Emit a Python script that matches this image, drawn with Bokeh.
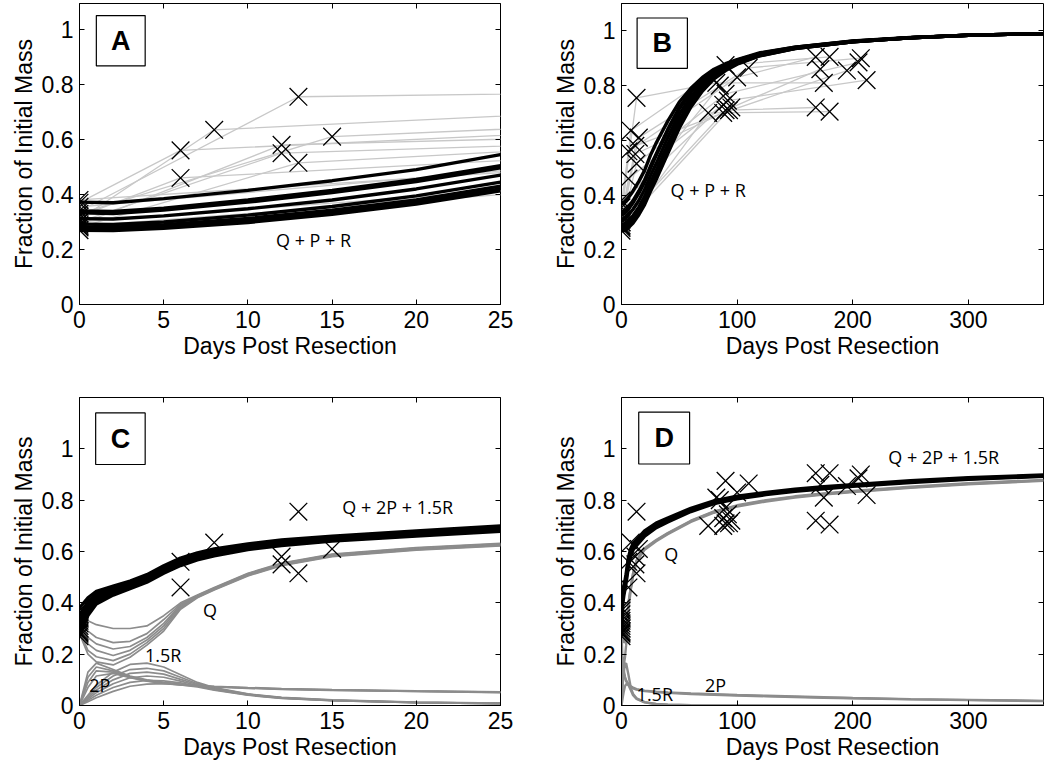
from bokeh.plotting import figure
from bokeh.models import FixedTicker, LinearAxis, Range1d, BoxAnnotation, Label
from bokeh.layouts import gridplot
from bokeh.embed import file_html
from bokeh.resources import INLINE

# ---------------- data ----------------
YTICKS = [0, 0.2, 0.4, 0.6, 0.8, 1]
YTICK_LABELS = ["0", "0.2", "0.4", "0.6", "0.8", "1"]
XTICKS_SHORT = [0, 5, 10, 15, 20, 25]
XTICKS_LONG = [0, 100, 200, 300]

# measured liver mass per patient (day, fraction of initial mass)
PATIENT_DAYS = [
    [0, 13, 82, 175],
    [0, 8, 90, 180],
    [0, 15, 110, 207],
    [0, 6, 100, 168],
    [0, 12, 88, 195],
    [0, 12, 93, 168],
    [0, 13, 90, 205],
    [0, 6, 92, 212],
    [0, 75, 180],
    [0, 90, 172],
    [0, 95],
    [0, 85],
    [0, 88],
]
PATIENT_MASS = [
    [0.34, 0.755, 0.81, 0.81],
    [0.31, 0.635, 0.875, 0.905],
    [0.33, 0.61, 0.865, 0.90],
    [0.37, 0.56, 0.83, 0.905],
    [0.29, 0.58, 0.70, 0.855],
    [0.30, 0.55, 0.71, 0.72],
    [0.28, 0.515, 0.77, 0.885],
    [0.32, 0.46, 0.745, 0.82],
    [0.27, 0.70, 0.705],
    [0.30, 0.71, 0.86],
    [0.285, 0.72],
    [0.355, 0.80],
    [0.38, 0.73],
]

# model Q + P + R fits (panels A, B)
FIT1_DAYS = [0, 2, 5, 10, 15, 20, 25, 30, 40, 50, 60, 70, 80, 90, 100, 120, 150, 200, 250, 300, 365]
FIT1_TOTAL = [
    [0.372, 0.370, 0.385, 0.415, 0.450, 0.490, 0.545, 0.590, 0.670, 0.740, 0.790, 0.830, 0.860, 0.880, 0.895, 0.920, 0.940, 0.963, 0.976, 0.984, 0.990],
    [0.340, 0.338, 0.350, 0.380, 0.415, 0.455, 0.505, 0.550, 0.640, 0.720, 0.780, 0.825, 0.855, 0.877, 0.893, 0.918, 0.940, 0.962, 0.975, 0.984, 0.990],
    [0.333, 0.331, 0.343, 0.372, 0.407, 0.447, 0.497, 0.545, 0.635, 0.715, 0.775, 0.820, 0.852, 0.875, 0.892, 0.917, 0.939, 0.962, 0.975, 0.984, 0.990],
    [0.312, 0.311, 0.322, 0.348, 0.380, 0.420, 0.470, 0.515, 0.610, 0.695, 0.760, 0.810, 0.845, 0.870, 0.888, 0.915, 0.938, 0.961, 0.975, 0.984, 0.990],
    [0.292, 0.291, 0.300, 0.325, 0.356, 0.395, 0.445, 0.490, 0.585, 0.675, 0.745, 0.800, 0.838, 0.865, 0.885, 0.913, 0.937, 0.960, 0.975, 0.984, 0.990],
    [0.282, 0.281, 0.290, 0.313, 0.343, 0.380, 0.430, 0.475, 0.570, 0.660, 0.735, 0.790, 0.832, 0.861, 0.882, 0.911, 0.936, 0.960, 0.975, 0.984, 0.990],
    [0.276, 0.275, 0.283, 0.305, 0.335, 0.372, 0.420, 0.465, 0.560, 0.652, 0.728, 0.785, 0.828, 0.858, 0.880, 0.910, 0.935, 0.960, 0.975, 0.984, 0.990],
    [0.270, 0.269, 0.277, 0.298, 0.328, 0.365, 0.413, 0.457, 0.552, 0.645, 0.722, 0.780, 0.825, 0.855, 0.878, 0.909, 0.935, 0.960, 0.975, 0.984, 0.990],
]

# model Q + 2P + 1.5R, first 25 days (panel C)
FIT2_DAYS_C = [0, 0.5, 1, 2, 3, 4, 5, 6, 7, 8, 10, 12, 15, 20, 25]
FIT2_TOTAL_C = [
    [0.38, 0.42, 0.445, 0.465, 0.485, 0.51, 0.545, 0.575, 0.595, 0.61, 0.63, 0.645, 0.66, 0.68, 0.70],
    [0.35, 0.405, 0.435, 0.458, 0.478, 0.503, 0.538, 0.568, 0.588, 0.603, 0.624, 0.64, 0.655, 0.675, 0.695],
    [0.33, 0.39, 0.425, 0.45, 0.472, 0.497, 0.532, 0.562, 0.582, 0.598, 0.619, 0.635, 0.651, 0.671, 0.69],
    [0.31, 0.375, 0.415, 0.443, 0.466, 0.491, 0.526, 0.556, 0.577, 0.593, 0.615, 0.631, 0.647, 0.667, 0.686],
    [0.29, 0.36, 0.405, 0.436, 0.46, 0.486, 0.52, 0.55, 0.572, 0.588, 0.611, 0.627, 0.643, 0.663, 0.682],
    [0.27, 0.35, 0.395, 0.43, 0.455, 0.48, 0.515, 0.545, 0.567, 0.583, 0.607, 0.623, 0.64, 0.66, 0.678],
]
FIT2_Q_C = [
    [0.35, 0.33, 0.315, 0.30, 0.30, 0.31, 0.35, 0.40, 0.43, 0.46, 0.515, 0.555, 0.59, 0.615, 0.632],
    [0.33, 0.29, 0.265, 0.245, 0.25, 0.28, 0.335, 0.395, 0.428, 0.458, 0.513, 0.553, 0.588, 0.613, 0.63],
    [0.31, 0.265, 0.24, 0.22, 0.23, 0.265, 0.32, 0.39, 0.426, 0.456, 0.511, 0.551, 0.586, 0.611, 0.628],
    [0.30, 0.24, 0.215, 0.195, 0.215, 0.255, 0.31, 0.385, 0.424, 0.454, 0.509, 0.549, 0.584, 0.609, 0.626],
    [0.29, 0.215, 0.19, 0.175, 0.20, 0.245, 0.30, 0.38, 0.422, 0.452, 0.507, 0.547, 0.582, 0.607, 0.624],
    [0.28, 0.20, 0.17, 0.158, 0.188, 0.235, 0.29, 0.375, 0.42, 0.45, 0.505, 0.545, 0.58, 0.605, 0.622],
]
FIT2_P_C = [
    [0, 0.13, 0.165, 0.14, 0.115, 0.10, 0.09, 0.083, 0.078, 0.075, 0.07, 0.066, 0.062, 0.057, 0.053],
    [0, 0.11, 0.15, 0.135, 0.112, 0.098, 0.088, 0.082, 0.077, 0.074, 0.069, 0.065, 0.061, 0.056, 0.052],
    [0, 0.09, 0.135, 0.13, 0.11, 0.096, 0.087, 0.081, 0.076, 0.073, 0.068, 0.064, 0.06, 0.055, 0.051],
    [0, 0.07, 0.115, 0.125, 0.108, 0.095, 0.086, 0.08, 0.075, 0.072, 0.067, 0.063, 0.059, 0.055, 0.05],
]
FIT2_R_C = [
    [0, 0.04, 0.08, 0.13, 0.16, 0.165, 0.15, 0.12, 0.09, 0.07, 0.045, 0.032, 0.022, 0.013, 0.009],
    [0, 0.035, 0.07, 0.115, 0.14, 0.145, 0.135, 0.11, 0.085, 0.068, 0.044, 0.031, 0.021, 0.012, 0.008],
    [0, 0.03, 0.06, 0.10, 0.125, 0.13, 0.122, 0.102, 0.082, 0.066, 0.043, 0.03, 0.02, 0.012, 0.008],
    [0, 0.025, 0.05, 0.085, 0.108, 0.115, 0.11, 0.095, 0.078, 0.064, 0.042, 0.03, 0.02, 0.011, 0.007],
    [0, 0.02, 0.04, 0.07, 0.09, 0.098, 0.096, 0.088, 0.075, 0.062, 0.041, 0.029, 0.019, 0.011, 0.007],
    [0, 0.015, 0.03, 0.055, 0.075, 0.083, 0.085, 0.08, 0.072, 0.06, 0.04, 0.028, 0.019, 0.011, 0.007],
]

# model Q + 2P + 1.5R, one year (panel D)
FIT2_DAYS_D = [0, 1, 2, 3, 4, 6, 8, 10, 13, 20, 30, 40, 60, 80, 100, 125, 150, 175, 200, 250, 300, 365]
FIT2_TOTAL_D = [
    [0.37, 0.445, 0.465, 0.485, 0.51, 0.575, 0.61, 0.63, 0.645, 0.68, 0.71, 0.73, 0.768, 0.797, 0.815, 0.83, 0.842, 0.852, 0.86, 0.875, 0.887, 0.898],
    [0.32, 0.425, 0.452, 0.472, 0.497, 0.562, 0.598, 0.619, 0.636, 0.671, 0.702, 0.722, 0.762, 0.792, 0.81, 0.826, 0.838, 0.848, 0.857, 0.872, 0.884, 0.895],
    [0.27, 0.395, 0.43, 0.455, 0.48, 0.545, 0.583, 0.607, 0.624, 0.66, 0.693, 0.715, 0.756, 0.787, 0.806, 0.822, 0.835, 0.845, 0.854, 0.869, 0.882, 0.893],
]
FIT2_Q_D = [
    [0.35, 0.315, 0.30, 0.30, 0.31, 0.40, 0.46, 0.515, 0.565, 0.613, 0.645, 0.672, 0.72, 0.756, 0.78, 0.80, 0.815, 0.826, 0.836, 0.852, 0.866, 0.879],
    [0.31, 0.265, 0.245, 0.25, 0.28, 0.395, 0.458, 0.513, 0.563, 0.611, 0.643, 0.67, 0.718, 0.754, 0.778, 0.798, 0.813, 0.824, 0.834, 0.85, 0.864, 0.877],
    [0.28, 0.17, 0.158, 0.188, 0.235, 0.375, 0.45, 0.505, 0.56, 0.607, 0.64, 0.667, 0.715, 0.751, 0.775, 0.795, 0.81, 0.822, 0.832, 0.848, 0.862, 0.875],
]
FIT2_P_D = [
    [0, 0.165, 0.135, 0.112, 0.098, 0.082, 0.075, 0.07, 0.064, 0.058, 0.054, 0.051, 0.047, 0.044, 0.041, 0.038, 0.035, 0.032, 0.029, 0.025, 0.022, 0.018],
    [0, 0.115, 0.125, 0.108, 0.095, 0.08, 0.072, 0.067, 0.062, 0.056, 0.052, 0.049, 0.045, 0.042, 0.039, 0.036, 0.033, 0.03, 0.028, 0.024, 0.021, 0.017],
]
FIT2_R_D = [
    [0, 0.08, 0.13, 0.16, 0.165, 0.12, 0.07, 0.045, 0.028, 0.013, 0.006, 0.003, 0.001, 0, 0, 0, 0, 0, 0, 0, 0, 0],
    [0, 0.03, 0.055, 0.075, 0.083, 0.08, 0.06, 0.04, 0.026, 0.012, 0.005, 0.003, 0.001, 0, 0, 0, 0, 0, 0, 0, 0, 0],
]

AXIS_FONT = "Liberation Sans"
NOTE_FONT = "Open Sans"
LIGHT_GRAY = "#c8c8c8"
MID_GRAY = "#8c8c8c"

obs_x = [d for row in PATIENT_DAYS for d in row]
obs_y = [m for row in PATIENT_MASS for m in row]


def make_fig(width, height, xmax, ymax, xticks, mb):
    p = figure(width=width, height=height, x_range=Range1d(0, xmax), y_range=Range1d(0, ymax),
               output_backend="svg", toolbar_location=None, tools="",
               min_border_left=mb[0], min_border_right=mb[1], min_border_top=mb[2], min_border_bottom=mb[3])
    p.xgrid.visible = False
    p.ygrid.visible = False
    p.outline_line_color = "black"
    p.outline_line_width = 1
    p.outline_line_alpha = 1
    p.background_fill_color = "white"
    p.border_fill_color = "white"
    p.xaxis.ticker = FixedTicker(ticks=xticks)
    p.yaxis.ticker = FixedTicker(ticks=YTICKS)
    p.yaxis.major_label_overrides = {t: s for t, s in zip(YTICKS, YTICK_LABELS)}
    p.xaxis.axis_label = "Days Post Resection"
    p.yaxis.axis_label = "Fraction of Initial Mass"
    for ax in (p.xaxis[0], p.yaxis[0]):
        ax.axis_line_color = "black"
        ax.major_tick_line_color = "black"
        ax.major_tick_in = 5
        ax.major_tick_out = 0
        ax.minor_tick_line_color = None
        ax.major_label_text_font = AXIS_FONT
        ax.major_label_text_font_size = "23px"
        ax.major_label_text_color = "black"
        ax.axis_label_text_font = AXIS_FONT
        ax.axis_label_text_font_size = "23px"
        ax.axis_label_text_font_style = "normal"
        ax.axis_label_text_color = "black"
        ax.major_label_standoff = 6
        ax.axis_label_standoff = 2
    # tick marks on the top and right edges (minor ticks only: no labels)
    top = LinearAxis(ticker=FixedTicker(ticks=[], minor_ticks=xticks),
                     major_tick_line_color=None, minor_tick_in=5, minor_tick_out=0,
                     minor_tick_line_color="black", axis_line_color=None)
    right = LinearAxis(ticker=FixedTicker(ticks=[], minor_ticks=YTICKS),
                       major_tick_line_color=None, minor_tick_in=5, minor_tick_out=0,
                       minor_tick_line_color="black", axis_line_color=None)
    p.add_layout(top, "above")
    p.add_layout(right, "right")
    return p


def panel_tag(p, letter, left, right, bottom, top):
    p.add_layout(BoxAnnotation(left=left, right=right, bottom=bottom, top=top,
                               fill_color="white", fill_alpha=1, line_color="black",
                               line_width=1.2, line_alpha=1))
    p.add_layout(Label(x=(left + right) / 2, y=(bottom + top) / 2, text=letter,
                       text_align="center", text_baseline="middle",
                       text_font=AXIS_FONT, text_font_style="bold", text_font_size="27px",
                       text_color="black"))


def note(p, x, y, text):
    p.add_layout(Label(x=x, y=y, text=text, text_align="center", text_baseline="middle",
                       text_font=NOTE_FONT, text_font_size="18px", text_color="black"))


def markers(p):
    p.scatter(obs_x, obs_y, marker="x", size=25, line_color="black", line_width=1.3)


# ---------------- panel A ----------------
pA = make_fig(525, 384, 25, 1.094, XTICKS_SHORT, (71, 25, 3, 77))
pA.multi_line(PATIENT_DAYS, PATIENT_MASS, line_color=LIGHT_GRAY, line_width=1.3)
pA.multi_line([FIT1_DAYS] * len(FIT1_TOTAL), FIT1_TOTAL, line_color="black", line_width=3.4)
markers(pA)
note(pA, 13.9, 0.234, "Q + P + R")
panel_tag(pA, "A", 1.0, 3.9, 0.867, 1.05)

# ---------------- panel B ----------------
pB = make_fig(523, 384, 365, 1.1, XTICKS_LONG, (96, 3, 3, 80))
pB.multi_line(PATIENT_DAYS, PATIENT_MASS, line_color=LIGHT_GRAY, line_width=1.3)
pB.multi_line([FIT1_DAYS] * len(FIT1_TOTAL), FIT1_TOTAL, line_color="black", line_width=3.4)
markers(pB)
note(pB, 75, 0.42, "Q + P + R")
panel_tag(pB, "B", 13.5, 57, 0.863, 1.047)

# ---------------- panel C ----------------
pC = make_fig(525, 382, 25, 1.2, XTICKS_SHORT, (79, 13, 13, 61))
for fam in (FIT2_Q_C, FIT2_P_C, FIT2_R_C):
    pC.multi_line([FIT2_DAYS_C] * len(fam), fam, line_color=MID_GRAY, line_width=1.7)
pC.multi_line([FIT2_DAYS_C] * len(FIT2_TOTAL_C), FIT2_TOTAL_C, line_color="black", line_width=3.2)
markers(pC)
note(pC, 18.9, 0.772, "Q + 2P + 1.5R")
note(pC, 7.75, 0.374, "Q")
note(pC, 4.97, 0.196, "1.5R")
note(pC, 1.2, 0.081, "2P")
panel_tag(pC, "C", 0.96, 3.9, 0.939, 1.14)

# ---------------- panel D ----------------
pD = make_fig(523, 382, 365, 1.2, XTICKS_LONG, (95, 5, 13, 61))
for fam in (FIT2_Q_D, FIT2_P_D, FIT2_R_D):
    pD.multi_line([FIT2_DAYS_D] * len(fam), fam, line_color=MID_GRAY, line_width=2.4)
pD.multi_line([FIT2_DAYS_D] * len(FIT2_TOTAL_D), FIT2_TOTAL_D, line_color="black", line_width=3.6)
markers(pD)
note(pD, 278.7, 0.967, "Q + 2P + 1.5R")
note(pD, 43, 0.589, "Q")
note(pD, 28.8, 0.045, "1.5R")
note(pD, 81.4, 0.081, "2P")
panel_tag(pD, "D", 14.9, 58.9, 0.941, 1.143)

grid = gridplot([[pA, pB], [pC, pD]], toolbar_location=None)
open("out.html", "w").write(file_html(grid, INLINE))
